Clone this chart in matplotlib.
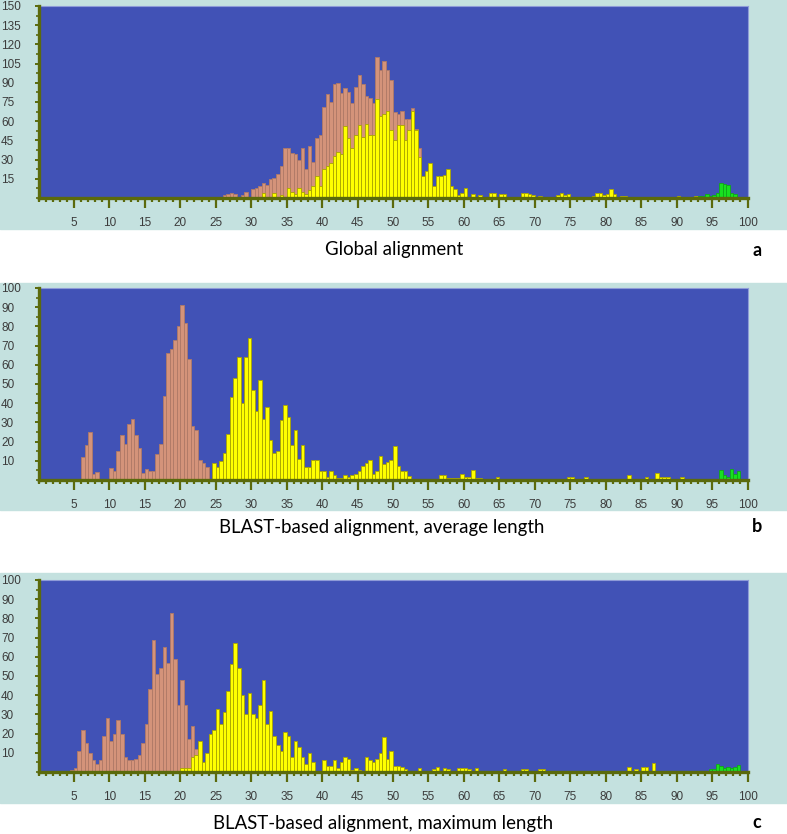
import numpy as np
import matplotlib
matplotlib.use("Agg")
import matplotlib.pyplot as plt
from matplotlib.patches import Rectangle
from matplotlib.ticker import MultipleLocator, FixedLocator

# ==============================
# DATA (histogram bins of width 0.5, listed from a start bin)
# ==============================

# panel a - Global alignment
a_orange_start = 25.5
a_orange = [1, 2, 3, 4, 3, 1, 2, 5, 1, 7,
            8, 9, 12, 10, 15, 16, 19, 25, 39, 39,
            35, 34, 30, 39, 23, 41, 28, 47, 49, 71,
            81, 75, 89, 90, 82, 86, 83, 74, 87, 96,
            89, 80, 78, 74, 110, 100, 107, 100, 92, 67,
            66, 68, 62, 62, 70, 54, 39]
a_yellow_start = 31.5
a_yellow = [4, 0, 0, 4, 0, 2, 0, 8, 5, 3,
            8, 5, 3, 6, 9, 17, 9, 23, 25, 27,
            33, 36, 34, 56, 47, 39, 49, 57, 48, 58,
            49, 49, 77, 64, 66, 68, 53, 45, 57, 57,
            45, 53, 68, 53, 32, 17, 21, 27, 9, 17,
            17, 18, 23, 9, 7, 2, 4, 8, 0, 3,
            0, 2, 0, 0, 4, 4, 1, 3, 3, 0,
            0, 0, 0, 4, 4, 3, 2, 0, 1.5, 0,
            0, 0, 0, 2.5, 4, 2, 3, 0, 0, 0,
            0, 0, 0, 1.5, 4, 4, 2, 3, 7, 3,
            0, 1.5, 1.5, 0, 0, 0, 0, 0, 0, 0,
            0, 0, 0, 0, 0, 0, 0, 1.5, 0, 0,
            0, 0, 1.5]
a_green_start = 93
a_green = [1.5, 1.5, 3, 1.5, 2, 4, 12, 11, 10, 4, 3, 1]

# panel b - BLAST-based alignment, average length
b_orange_start = 6
b_orange = [12, 18, 25, 3, 4, 0, 0, 0, 6, 4.5,
            15, 23.5, 19, 29, 32, 23.5, 16.5, 3.5, 5.5, 4.7,
            4.7, 13.5, 19, 44, 66, 68, 73, 80, 91, 82,
            63, 28, 26, 10.5, 9, 7]
b_yellow_start = 24.5
b_yellow = [9, 7, 10, 14, 24, 43, 53, 64, 40, 64,
            74, 47, 36, 52, 32, 38, 21, 14, 15, 31,
            39, 33, 18, 26, 11, 18, 7, 7, 10.5, 10.5,
            4.5, 4.5, 1.5, 4.5, 2.5, 1, 1, 2.5, 1.5, 2.5,
            3, 4.5, 7.5, 9, 10.5, 3, 4.5, 12.5, 8.5, 9.5,
            10.5, 17.5, 7.5, 4.5, 4.5, 2, 0.5, 0.5, 0, 0,
            0, 0, 0, 0, 2.5, 2.5, 1, 1, 1, 1,
            3, 1.5, 1.5, 5, 1, 1, 0, 0, 0, 0,
            1.5, 0, 0.5, 0, 0, 0, 0, 0.5, 0.5, 0.5,
            0.5, 0, 0, 0, 0, 0, 0, 0, 0, 0,
            1.5, 1.5, 0, 0, 0, 1.5, 0, 0, 0, 0,
            0, 0, 0, 0, 0, 0, 0, 2.5, 0.5, 0.5,
            0.5, 0.5, 1.5, 0, 0, 3.5, 1.5, 1.5, 1.5, 0,
            0, 0, 1.5, 0, 0, 0, 0, 0.5, 0.5, 0.5]
b_green_start = 95
b_green = [0.5, 0.5, 5, 2.5, 1.5, 5.5, 3, 4.5]

# panel c - BLAST-based alignment, maximum length
c_orange_start = 4.5
c_orange = [1, 2, 11, 22, 15, 10, 6, 4, 6, 19,
            28, 16, 20, 27, 20, 8, 6, 6, 7, 9,
            15, 25, 43, 69, 51, 54, 65, 57, 83, 59,
            35, 48, 35, 17, 24, 12]
c_yellow_start = 20
c_yellow = [2, 2, 2, 8, 9, 16, 5, 10, 20, 22,
            33, 25, 31, 42, 56, 67, 54, 40, 30, 41,
            30, 28, 35, 48, 25, 32, 19, 14, 11, 21,
            19, 8, 16, 13, 8, 4, 10, 5, 0, 0,
            6, 3, 3, 6, 2, 5, 8, 7, 1, 2,
            1, 0, 8, 6, 5, 7, 10, 18, 7, 11,
            3, 3, 2.4, 1.4, 0.7, 0, 0, 2.2, 0, 0,
            0, 1.4, 2.4, 0, 2.2, 1.4, 0, 0, 1.9, 2.2,
            1.9, 1.4, 0, 2.2, 0, 0, 0, 0.5, 0.5, 0,
            0, 1.4, 0, 0, 0, 0, 1.4, 1.4, 0, 0,
            0, 1.4, 1.4, 0, 0.5, 0.5, 0.5, 0.5, 0.5, 0.5,
            0.5, 0.5, 0.5, 0.5, 0, 0, 0, 0, 0, 0,
            0, 0, 0, 0, 0, 0, 2.4, 0, 1.4, 0,
            2.4, 2.4, 0, 4.5]
c_green_start = 94.5
c_green = [1.4, 1.4, 4.2, 3, 2, 2.4, 2, 2.8, 3.5]

x_ticks = list(range(5, 101, 5))
a_yticks = list(range(15, 151, 15))
bc_yticks = list(range(10, 101, 10))

captions = ["Global alignment",
            "BLAST-based alignment, average length",
            "BLAST-based alignment, maximum length"]
letters = ["a", "b", "c"]

# ==============================
# STYLE
# ==============================
CYAN = "#c4e1df"
BLUE = "#4152b6"
OLIVE = "#5b6a0c"
ORANGE = "#d4937a"
ORANGE_EDGE = "#b07a66"
YELLOW = "#ffff00"
YELLOW_EDGE = "#a9a400"
GREEN = "#18e020"
GREEN_EDGE = "#10a818"

W, H = 787, 834
fig = plt.figure(figsize=(W / 100, H / 100), dpi=100)
fig.patch.set_facecolor("white")

# cyan panel backgrounds (pixel rows top, bottom)
bg_rows = [(0, 229), (283, 510), (573, 803)]
for top, bot in bg_rows:
    fig.add_artist(Rectangle((0, 1 - bot / H), 1, (bot - top) / H,
                             transform=fig.transFigure, color=CYAN, zorder=0))

# plot area in pixels
left_px, right_px = 38.5, 747.5
axis_rows = [(6, 198), (288, 480), (580, 772)]


def draw_bars(ax, start, values, face, edge):
    vals = np.array(values, dtype=float)
    xs = start + 0.5 * np.arange(len(vals))
    keep = vals > 0
    ax.bar(xs[keep], vals[keep], width=0.5, align="edge",
           color=face, edgecolor=edge, linewidth=0.6, zorder=2)


panels = [
    (a_orange_start, a_orange, a_yellow_start, a_yellow, a_green_start, a_green, 150, a_yticks),
    (b_orange_start, b_orange, b_yellow_start, b_yellow, b_green_start, b_green, 100, bc_yticks),
    (c_orange_start, c_orange, c_yellow_start, c_yellow, c_green_start, c_green, 100, bc_yticks),
]

for i, (os_, ov, ys, yv, gs, gv, ymax, yt) in enumerate(panels):
    top, bot = axis_rows[i]
    ax = fig.add_axes([left_px / W, 1 - bot / H, (right_px - left_px) / W, (bot - top) / H])
    ax.set_facecolor(BLUE)
    draw_bars(ax, os_, ov, ORANGE, ORANGE_EDGE)
    draw_bars(ax, ys, yv, YELLOW, YELLOW_EDGE)
    draw_bars(ax, gs, gv, GREEN, GREEN_EDGE)
    ax.set_xlim(0, 100)
    ax.set_ylim(0, ymax)

    for s in ["top", "right"]:
        ax.spines[s].set_color("#8e9bd8")
        ax.spines[s].set_linewidth(0.8)
    for s in ["bottom", "left"]:
        ax.spines[s].set_color(OLIVE)
        ax.spines[s].set_linewidth(2.4)
        ax.spines[s].set_zorder(5)

    ax.xaxis.set_major_locator(FixedLocator(x_ticks))
    ax.xaxis.set_minor_locator(MultipleLocator(1))
    ax.set_xticklabels([str(t) for t in x_ticks])
    ax.tick_params(axis="x", which="major", direction="out", length=7.5, width=1.6,
                   color=OLIVE, pad=6, labelsize=8.5, labelcolor="#3c3c3c")
    ax.tick_params(axis="x", which="minor", direction="out", length=3, width=1.6, color=OLIVE)

    ax.yaxis.set_major_locator(FixedLocator(yt))
    ax.yaxis.set_minor_locator(MultipleLocator(yt[0] / 2))
    ax.set_yticklabels([str(t) for t in yt])
    ax.tick_params(axis="y", which="major", direction="out", length=3, width=1.4,
                   color=OLIVE, pad=24, labelsize=8.5, labelcolor="#3c3c3c")
    ax.tick_params(axis="y", which="minor", direction="out", length=2, width=1.2, color=OLIVE)
    for lab in ax.get_yticklabels():
        lab.set_horizontalalignment("left")
    for lab in ax.get_xticklabels() + ax.get_yticklabels():
        lab.set_fontfamily("Liberation Sans")

# captions
cap_pos = [(394, 250), (382, 527), (383, 823)]
for (cx, cy), txt, let in zip(cap_pos, captions, letters):
    fig.text(cx / W, 1 - cy / H, txt, ha="center", va="center",
             fontsize=13.4, family="Lato", color="black")
    fig.text(757 / W, 1 - cy / H, let, ha="center", va="center",
             fontsize=13, family="Lato", fontweight="bold", color="black")

fig.savefig("out.png", dpi=100)
